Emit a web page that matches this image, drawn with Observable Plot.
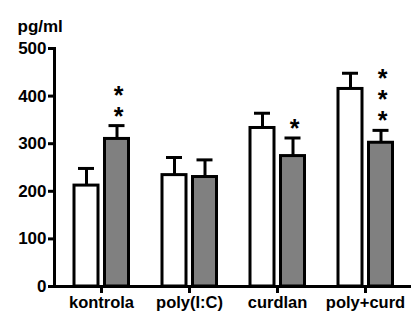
<!DOCTYPE html>
<html>
<head>
<meta charset="utf-8">
<script src="https://cdn.jsdelivr.net/npm/d3@7"></script>
<script src="https://cdn.jsdelivr.net/npm/@observablehq/plot@0.6"></script>
<style>
  html, body { margin: 0; padding: 0; background: #fff; }
</style>
</head>
<body>
<div id="chart"></div>
<script>
const categories = ["kontrola", "poly(I:C)", "curdlan", "poly+curd"];
const whiteValues = [212, 234, 333, 415];
const whiteErrors = [248, 271, 364, 448];
const grayValues = [310, 230, 274, 302];
const grayErrors = [338, 266, 312, 328];
const grayStars = [2, 0, 1, 3];
const yTicks = [0, 100, 200, 300, 400, 500];
const yUnit = "pg/ml";

const white = categories.map((c, i) => ({cat: c, v: whiteValues[i], e: whiteErrors[i]}));
const gray = categories.map((c, i) => ({cat: c, v: grayValues[i], e: grayErrors[i], s: grayStars[i]}));

const W = 411, H = 312;
const barInset = 32;
const capInset = 36;
const dxW = -15, dxG = 15.5;
const font = "'Liberation Sans', Arial, Helvetica, sans-serif";

const chart = Plot.plot({
  width: W,
  height: H,
  marginLeft: 54,
  marginRight: 0,
  marginTop: 48,
  marginBottom: 26,
  style: {fontFamily: font, fontSize: "16px", fontWeight: "bold", color: "#000", background: "#fff"},
  x: {type: "band", domain: categories, range: [55.5, 411], padding: 0, label: null},
  y: {domain: [0, 500], label: null},
  marks: [
    // error bars
    Plot.ruleX(white, {x: "cat", y1: "v", y2: "e", dx: dxW, stroke: "#000", strokeWidth: 3}),
    Plot.tickY(white, {x: "cat", y: "e", dx: dxW, insetLeft: capInset, insetRight: capInset, stroke: "#000", strokeWidth: 3}),
    Plot.ruleX(gray, {x: "cat", y1: "v", y2: "e", dx: dxG, stroke: "#000", strokeWidth: 3}),
    Plot.tickY(gray, {x: "cat", y: "e", dx: dxG, insetLeft: capInset, insetRight: capInset, stroke: "#000", strokeWidth: 3}),
    // bars
    Plot.barY(white, {x: "cat", y: "v", dx: dxW, insetLeft: barInset, insetRight: barInset, fill: "#ffffff", stroke: "#000", strokeWidth: 3}),
    Plot.barY(gray, {x: "cat", y: "v", dx: dxG, insetLeft: barInset, insetRight: barInset, fill: "#808080", stroke: "#000", strokeWidth: 3}),
    // significance stars (one stacked text per bar)
    Plot.text(gray.filter(d => d.s > 0), {
      x: "cat", y: "e", text: d => Array(d.s).fill("*").join("\n"),
      dx: dxG + 1.5, dy: -1, lineHeight: 0.84,
      fontSize: 25, fontWeight: "bold", fill: "#000", lineAnchor: "bottom"
    }),
    // axes
    Plot.frame({anchor: "left", stroke: "#000", strokeWidth: 3}),
    Plot.ruleY([0], {stroke: "#000", strokeWidth: 3}),
    Plot.axisY({ticks: yTicks, tickSize: 6, tickPadding: 2, stroke: "#000", strokeWidth: 3, fill: "#000", fontSize: 17, fontWeight: "bold", tickFormat: d => String(d), label: null}),
    Plot.axisX({tickSize: 7, tickPadding: 3, stroke: "#000", strokeWidth: 3, fill: "#000", fontSize: 16.5, fontWeight: "bold", label: null}),
    Plot.text([yUnit], {frameAnchor: "top-left", dx: -37, dy: -22, textAnchor: "start", lineAnchor: "middle", fontSize: 17, fontWeight: "bold", fill: "#000"})
  ]
});
document.getElementById("chart").appendChild(chart);
</script>
</body>
</html>
